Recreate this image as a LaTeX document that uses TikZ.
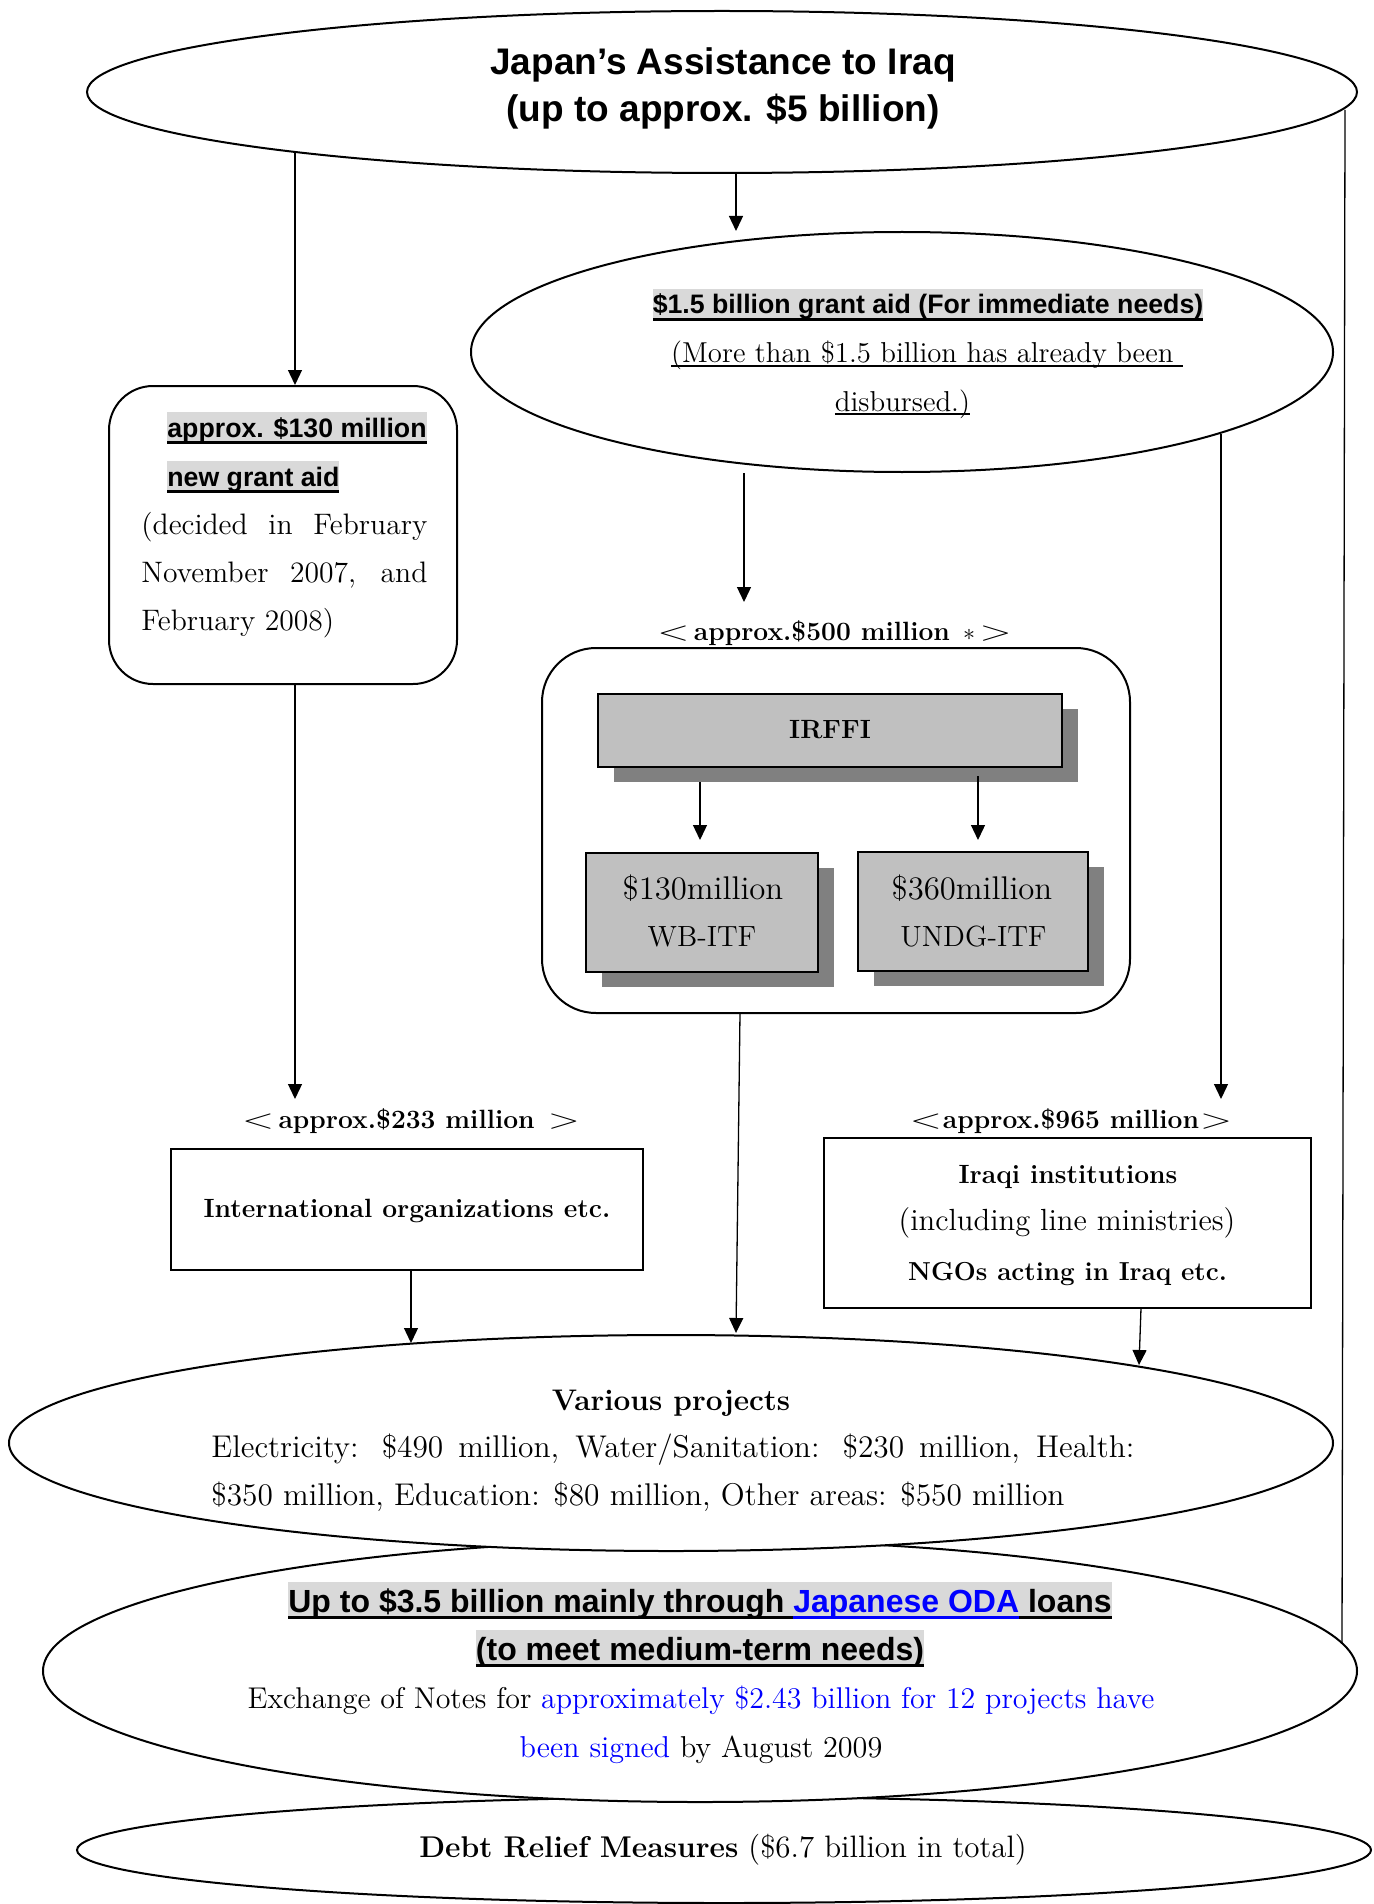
\documentclass[tikz,border=0pt]{standalone}
\usepackage{fontspec}
\usepackage{graphicx}
\setmainfont{lmroman12-regular.otf}[BoldFont=lmroman12-bold.otf, ItalicFont=lmroman12-italic.otf]
\newfontfamily\arsans{Liberation Sans}
\usetikzlibrary{arrows.meta,shapes.geometric,shadows}
\definecolor{hlgray}{HTML}{D9D9D9}
\definecolor{boxgray}{HTML}{C0C0C0}
\definecolor{shadowgray}{HTML}{808080}
\definecolor{linkblue}{HTML}{0000FF}
\newcommand\fs[1]{\fontsize{#1pt}{#1pt}\selectfont}
\newcommand\hlu[5]{\begingroup\color{#1}\setbox0\hbox{#5}%
  \rlap{\color{hlgray}\rule[-#3]{\wd0}{\dimexpr#2+#3\relax}}%
  \rlap{\rule[-#3]{\wd0}{#4}}%
  \box0\endgroup}
\newcommand\ulin[1]{\setbox0\hbox{#1}\rlap{\rule[-1.8pt]{\wd0}{0.7pt}}\box0}
\newcommand\ltb{\scalebox{1.75}[1.15]{$<$}}
\newcommand\gtb{\scalebox{1.75}[1.15]{$>$}}
\tikzset{
  shp/.style={draw, line width=1pt, inner sep=0pt, fill=white},
  ell/.style={shp, ellipse},
  gbox/.style={draw, line width=1pt, fill=boxgray, inner sep=0pt,
    drop shadow={shadow xshift=8pt, shadow yshift=-7.5pt, fill=shadowgray, opacity=1}},
  arr/.style={line width=0.65pt, -{Triangle[length=7.5pt,width=7pt]}},
  plainline/.style={line width=0.65pt},
  txt/.style={inner sep=0pt, anchor=base},
  txl/.style={inner sep=0pt, anchor=base west},
  sansb/.style={font=\arsans\bfseries\fs{#1}},
  serif/.style={font=\fs{#1}},
  serifb/.style={font=\bfseries\fs{#1}},
}
\begin{document}
\begin{tikzpicture}[x=0.5pt,y=-0.5pt]
\useasboundingbox (0,0) rectangle (1374,1904);
% ---- shapes
\node[ell, minimum width=647pt, minimum height=53pt] (debt) at (724,1850) {};
\node[ell, minimum width=657pt, minimum height=131pt] (oda) at (700,1671) {};
\node[ell, minimum width=662pt, minimum height=108pt] (various) at (671,1443) {};
\node[ell, minimum width=635pt, minimum height=81pt] (top) at (722,92) {};
\node[ell, minimum width=431pt, minimum height=120pt] (grant) at (902,352) {};
\node[shp, rounded corners=22pt, minimum width=174pt, minimum height=149pt] (box1) at (283,535) {};
\node[shp, rounded corners=27pt, minimum width=294pt, minimum height=182.5pt] (big) at (836,830.5) {};
\node[gbox, minimum width=232pt, minimum height=36.5pt] (irffi) at (830,730.5) {};
\node[gbox, minimum width=116pt, minimum height=59.5pt] (wb) at (702,912.5) {};
\node[gbox, minimum width=115pt, minimum height=59.5pt] (undg) at (973,911.5) {};
\node[shp, minimum width=236pt, minimum height=60.5pt] (intorg) at (407,1209.5) {};
\node[shp, minimum width=243.5pt, minimum height=85pt] (iraqi) at (1067.5,1223) {};
% ---- texts
\node[txt, sansb=18.5] (t1) at (723,75) {Japan’s Assistance to Iraq};
\node[txt, sansb=18.5] (t2) at (723,122) {(up to approx. \$5 billion)};
\node[txt, sansb=13.35] (g1) at (928,314) {\hlu{black}{12.5pt}{3.5pt}{1.5pt}{\$1.5 billion grant aid (For immediate needs)}};
\node[txt, serif=14.4] (g2) at (927,363) {\ulin{(More than \$1.5 billion has already been }};
\node[txt, serif=14.4] (g3) at (902.5,411) {\ulin{disbursed.)}};
\node[txl, sansb=13.35] (b1) at (167,437) {\hlu{black}{12.5pt}{3.5pt}{1.5pt}{approx. \$130 million}};
\node[txl, sansb=13.35] (b2) at (167,486) {\hlu{black}{12.5pt}{3.5pt}{1.5pt}{new grant aid}};
\node[txl, serif=14.8] (b3) at (141,534) {\makebox[143pt][s]{(decided in February}};
\node[txl, serif=14.8] (b4) at (141,582) {\makebox[143pt][s]{November 2007, and}};
\node[txl, serif=14.8] (b5) at (141,630) {February 2008)};
\node[txt, serifb=13.2] (l500) at (834.5,640) {\ltb\,approx.\$500 million\enspace$\ast$\,\gtb};
\node[txt, serifb=13.2] (tirffi) at (830,738) {IRFFI};
\node[txt, serif=16.4] (twb1) at (703,899) {\$130million};
\node[txt, serif=14.6] (twb2) at (702,946) {WB-ITF};
\node[txt, serif=16.4] (tun1) at (972,899) {\$360million};
\node[txt, serif=14.6] (tun2) at (973.5,946) {UNDG-ITF};
\node[txt, serifb=13.2] (l233) at (411,1128) {\ltb\,approx.\$233 million\enspace\gtb};
\node[txt, serifb=13.2] (tint) at (407,1217) {International organizations etc.};
\node[txt, serifb=13.2] (l965) at (1071,1128) {\ltb\kern0.5pt approx.\$965 million\kern0.5pt\gtb};
\node[txt, serifb=13.2] (ti1) at (1068,1183) {Iraqi institutions};
\node[txt, serif=15.3] (ti2) at (1067,1230) {(including line ministries)};
\node[txt, serifb=13] (ti3) at (1067.5,1280) {NGOs acting in Iraq etc.};
\node[txt, serifb=14.9] (v1) at (671,1410) {Various projects};
\node[txl, serif=15.7] (v2) at (211,1457) {\makebox[461.5pt][s]{Electricity: \$490 million, Water/Sanitation: \$230 million, Health:}};
\node[txl, serif=15.7] (v3) at (211,1505) {\$350 million, Education: \$80 million, Other areas: \$550 million};
\node[txt, sansb=16] (o1) at (700,1612) {\hlu{black}{15pt}{3.5pt}{1.6pt}{Up to \$3.5 billion mainly through }\hlu{linkblue}{15pt}{3.5pt}{1.6pt}{Japanese ODA}\hlu{black}{15pt}{3.5pt}{1.6pt}{ loans}};
\node[txt, sansb=16] (o2) at (700,1660) {\hlu{black}{15pt}{3.5pt}{1.6pt}{(to meet medium-term needs)}};
\node[txt, serif=15] (o3) at (701,1708) {Exchange of Notes for \textcolor{linkblue}{approximately \$2.43 billion for 12 projects have}};
\node[txt, serif=15.1] (o4) at (701,1757) {\textcolor{linkblue}{been signed} by August 2009};
\node[txt, serif=15.5] (d1) at (723,1857) {{\fs{15}\bfseries Debt Relief Measures} (\$6.7 billion in total)};
% ---- connector end points
\coordinate (a1s) at (295,153);
\coordinate (a2s) at (736,174);
\coordinate (a2e) at (736,231);
\coordinate (a3s) at (744,473);
\coordinate (a3e) at (744,602);
\coordinate (a4s) at (1221,434);
\coordinate (a4e) at (1221,1099);
\coordinate (a5e) at (295,1099);
\coordinate (a6s) at (700,782);
\coordinate (a6e) at (700,840);
\coordinate (a7s) at (978,776);
\coordinate (a7e) at (978,840);
\coordinate (a8s) at (740,1013);
\coordinate (a8e) at (736,1333);
\coordinate (a9s) at (411,1270);
\coordinate (a9e) at (411,1343);
\coordinate (a10s) at (1141,1308);
\coordinate (a10e) at (1139,1365);
\coordinate (rls) at (1345,110);
\coordinate (rle) at (1342,1643);
% ---- connectors
\draw[arr] (a1s) -- (a1s |- box1.north);
\draw[arr] (a2s) -- (a2e);
\draw[arr] (a3s) -- (a3e);
\draw[arr] (a4s) -- (a4e);
\draw[arr] (box1.south -| a1s) -- (a5e);
\draw[arr] (a6s) -- (a6e);
\draw[arr] (a7s) -- (a7e);
\draw[arr] (a8s) -- (a8e);
\draw[arr] (a9s) -- (a9e);
\draw[arr] (a10s) -- (a10e);
\draw[plainline] (rls) -- (rle);
\end{tikzpicture}
\end{document}
